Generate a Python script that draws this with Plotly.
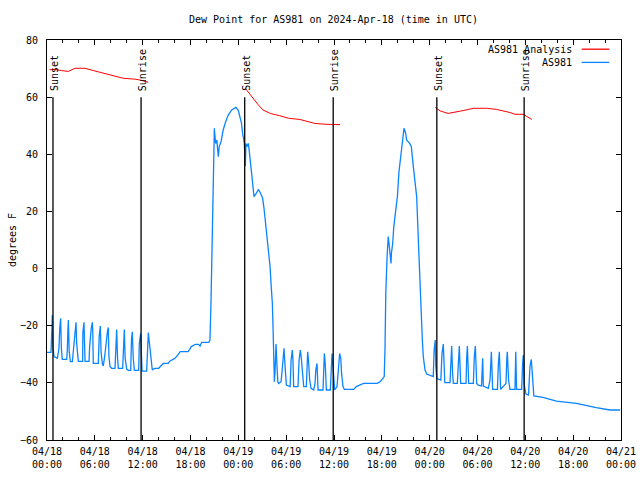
import plotly.graph_objects as go

# ---------------- data ----------------
# time is hours since 2024-04-18 00:00 UTC
analysis_hours = [0.3, 1.0, 1.8, 2.67, 3.5, 4.77, 5.81, 7.5, 8.5, 9.57, 11.0, 11.66, 12.71, None,
                  24.9, 25.5, 26.0, 26.5, 27.1, 28.0, 29.2, 30.3, 31.7, 32.5, 33.6, 35.0, 36.75, None,
                  48.7, 49.3, 50.3, 51.2, 52.2, 53.5, 55.15, 56.4, 57.2, 58.1, 58.7, 59.75, 60.8]
analysis_values = [69.6, 69.7, 69.3, 69.0, 70.1, 70.1, 69.3, 68.0, 67.3, 66.6, 66.3, 66.0, 65.2, None,
                   63.0, 60.8, 59.0, 57.3, 55.5, 54.3, 53.5, 52.6, 52.2, 51.7, 50.8, 50.5, 50.4, None,
                   56.4, 55.2, 54.3, 54.7, 55.3, 56.1, 56.1, 55.7, 55.3, 54.6, 54.0, 54.0, 52.2]

obs_hours = [
    0.0, 0.5, 0.55, 0.67, 0.75, 0.88, 1.3,
    1.5, 1.6, 1.71, 1.8, 1.92, 2.47,
    2.55, 2.62, 2.68, 2.78, 2.93, 3.18,
    3.3, 3.55, 3.64, 3.72, 3.85, 3.93, 4.47,
    4.5, 4.64, 4.7, 4.77, 5.27,
    5.35, 5.55, 5.69, 5.74, 5.81, 6.44,
    6.55, 6.69, 6.78, 6.95, 7.06, 7.25, 7.45, 7.58, 7.69, 7.77, 7.9, 8.11, 8.53,
    8.62, 8.74, 8.85, 8.95, 9.49,
    9.58, 9.7, 9.8, 10.0, 10.2, 10.5,
    10.6, 10.7, 10.82, 10.96, 11.5,
    11.58, 11.75, 11.85, 11.92, 12.5,
    12.6, 12.71, 12.78, 12.9, 13.05, 13.21, 13.35, 13.55,
    14.0, 14.3, 14.6, 15.2, 15.4, 15.8, 16.06, 16.4, 16.7, 17.1, 17.7, 17.9, 18.1, 18.6,
    19.0, 19.2, 19.4, 20.3, 20.44, 20.57, 20.74, 20.85, 20.95, 20.99, 21.15, 21.3, 21.49,
    21.6, 21.83, 22.1, 22.41, 22.75, 23.16, 23.7, 24.0, 24.21, 24.4, 24.54, 24.75, 24.88,
    24.95, 25.1, 25.25, 25.38, 25.47, 25.59, 25.72, 25.8, 25.97, 26.25, 26.51, 26.8, 27.05,
    27.22, 27.43, 27.64, 27.85, 27.98, 28.1, 28.27,
    28.35, 28.45, 28.52, 28.6, 28.73, 28.83, 28.95, 29.06, 29.36, 29.5, 29.62, 29.73, 29.8,
    29.9, 30.02, 30.5, 30.62, 30.77, 30.85, 30.94, 31.48, 31.62, 31.78, 31.9, 32.05, 32.2,
    32.53, 32.7, 32.8, 32.95, 33.12, 33.45, 33.62, 33.72, 33.87, 34.0, 34.62, 34.79, 34.9,
    35.04, 35.54, 35.75, 35.85, 36.0, 36.08, 36.38, 36.55, 36.71, 36.85, 36.95, 37.13, 37.3,
    38.47, 38.8, 39.7, 41.4, 41.8, 42.3, 42.4, 42.5, 42.66, 42.8, 42.9, 43.0, 43.15, 43.2,
    43.36, 43.5, 43.7, 43.95, 44.15, 44.36, 44.57, 44.78, 45.0, 45.1, 45.5, 45.7, 45.95,
    46.16, 46.37, 46.58, 46.8, 46.9, 47.08, 47.2, 47.42, 47.63, 48.25, 48.45,
    48.56, 48.7, 48.77, 48.9, 49.4, 49.55, 49.71, 49.79, 49.9, 50.55, 50.68, 50.76, 50.88,
    50.97, 51.47, 51.6, 51.72, 51.89, 52.56, 52.65, 52.73, 52.9, 53.48, 53.6, 53.73, 53.9,
    54.1, 54.5, 54.65, 54.73, 55.36, 55.57, 55.74, 55.9, 56.5, 56.62, 56.74, 56.9, 57.57,
    57.68, 57.74, 57.9, 58.07, 58.7, 58.8, 58.9, 59.54, 59.66, 59.75, 59.87, 60.08, 60.4,
    60.58, 60.75, 60.9, 61.07, 62.2, 63.1, 63.9, 66.4, 67.7, 68.9, 70.6, 71.9]
obs_values = [
    -29.3, -29.3, -26.0, -16.3, -27.3, -30.8, -31.4,
    -27.9, -20.9, -17.4, -27.9, -31.8, -31.8,
    -28.5, -21.5, -18.0, -28.8, -32.6, -32.6,
    -28.8, -20.3, -18.8, -26.2, -29.1, -32.5, -32.5,
    -22.4, -18.8, -29.1, -32.5, -32.5,
    -27.3, -20.9, -18.8, -22.1, -33.2, -33.2,
    -23.6, -20.1, -29.1, -33.4, -34.1, -30.5, -23.8, -22.1, -20.6, -30.8, -34.3, -34.9, -34.9,
    -24.8, -21.3, -31.4, -34.9, -34.9,
    -24.8, -21.3, -31.4, -35.3, -35.6, -35.6,
    -24.8, -22.1, -31.4, -35.6, -35.6,
    -26.2, -22.7, -29.1, -35.9, -35.9,
    -26.2, -22.4, -24.4, -27.9, -32.6, -35.5, -35.2, -34.9,
    -34.9, -34.1, -33.2, -33.2, -32.4, -31.8, -31.4, -30.3, -29.1, -29.1, -29.1, -28.3, -27.3, -26.5,
    -26.5, -27.1, -25.8, -25.8, -25.0, -11.9, 13.5, 32.2, 43.8, 49.1, 43.8, 45.0, 39.2,
    42.7, 44.4, 48.5, 51.4, 53.8, 55.5, 56.4, 55.3, 53.2, 50.8, 47.3, 43.8, 35.9,
    43.8, 42.7, 43.8, 40.9, 38.6, 35.7, 32.2, 28.7, 25.2, 26.3, 27.7, 26.3, 24.6,
    21.1, 15.2, 10.0, 5.3, 0.7, -5.2, -12.2,
    -20.3, -29.7, -39.6, -36.1, -26.4, -33.2, -39.6, -40.2, -39.6, -35.5, -30.8, -27.9, -31.4,
    -35.5, -40.8, -41.3, -32.0, -28.5, -32.0, -41.3, -41.3, -32.0, -28.5, -31.4, -35.5, -41.3,
    -41.3, -29.1, -32.0, -39.0, -41.9, -42.5, -40.2, -35.5, -33.2, -42.5, -42.5, -29.7, -33.2,
    -42.5, -42.5, -29.7, -33.2, -39.6, -42.5, -41.3, -33.2, -29.7, -31.4, -36.7, -41.3, -42.3,
    -42.3, -41.3, -40.2, -40.2, -39.6, -37.8, -27.9, -8.1, 4.2, 11.2, 8.8, 5.3, 1.8, 5.3,
    8.8, 14.7, 19.3, 25.2, 33.9, 38.6, 42.7, 49.1, 47.3, 45.0, 43.8, 42.7, 35.7,
    31.0, 25.2, 10.0, -7.5, -18.0, -25.0, -30.8, -35.5, -36.9, -37.6, -37.8,
    -28.5, -25.0, -34.3, -38.5, -39.0, -29.7, -26.4, -36.1, -39.9, -39.9, -30.8, -27.1, -36.7,
    -40.2, -40.2, -30.8, -27.1, -40.2, -40.2, -30.8, -27.1, -40.2, -40.2, -30.8, -27.1, -40.2,
    -40.8, -41.1, -31.4, -41.1, -41.9, -39.0, -29.1, -42.3, -42.3, -33.2, -29.1, -42.3, -40.2,
    -31.4, -29.1, -39.0, -42.3, -42.3, -29.1, -42.3, -42.3, -33.2, -30.3, -40.8, -43.9, -44.3,
    -34.3, -31.8, -40.2, -44.6, -45.1, -45.7, -46.4, -47.2, -48.1, -48.7, -49.5, -49.5]

sun_event_hours = [0.75, 11.8, 24.8, 35.9, 48.9, 59.85]
sun_event_labels = ["Sunset", "Sunrise", "Sunset", "Sunrise", "Sunset", "Sunrise"]

x_tick_hours = [0, 6, 12, 18, 24, 30, 36, 42, 48, 54, 60, 66, 72]
x_tick_labels = ["04/18<br>00:00", "04/18<br>06:00", "04/18<br>12:00", "04/18<br>18:00",
                 "04/19<br>00:00", "04/19<br>06:00", "04/19<br>12:00", "04/19<br>18:00",
                 "04/20<br>00:00", "04/20<br>06:00", "04/20<br>12:00", "04/20<br>18:00",
                 "04/21<br>00:00"]
y_tick_values = [-60, -40, -20, 0, 20, 40, 60, 80]

series_names = ["AS981 Analysis", "AS981"]
series_colors = ["#ff0000", "#0a84ff"]

FONT = "DejaVu Sans Mono"

FIG_W, FIG_H = 640, 480

fig = go.Figure()
fig.add_trace(go.Scatter(x=analysis_hours, y=analysis_values, mode="lines",
                         line=dict(color=series_colors[0], width=1), connectgaps=False,
                         name=series_names[0], showlegend=False))
fig.add_trace(go.Scatter(x=obs_hours, y=obs_values, mode="lines",
                         line=dict(color=series_colors[1], width=1.3),
                         name=series_names[1], showlegend=False))

for h, lab in zip(sun_event_hours, sun_event_labels):
    fig.add_shape(type="line", xref="x", yref="y", x0=h, x1=h, y0=-60, y1=60,
                  line=dict(color="black", width=1.3))
    fig.add_annotation(x=h, y=60, xref="x", yref="y", text=lab, textangle=-90,
                       showarrow=False, xanchor="center", yanchor="bottom", yshift=4, xshift=1,
                       font=dict(family=FONT, size=10, color="black"))

# gnuplot-style legend: text on the left, line sample on the right
legend_rows_y = [0.977, 0.944]
for name, color, yy in zip(series_names, series_colors, legend_rows_y):
    fig.add_annotation(x=0.918, y=yy, xref="paper", yref="paper", text=name, showarrow=False,
                       xanchor="right", yanchor="middle",
                       font=dict(family=FONT, size=10, color="black"))
    fig.add_shape(type="line", xref="paper", yref="paper", x0=0.9315, x1=0.9795, y0=yy, y1=yy,
                  line=dict(color=color, width=1.3))

fig.update_layout(
    width=FIG_W, height=FIG_H,
    margin=dict(l=47, r=19, t=40, b=40, autoexpand=False),
    paper_bgcolor="white", plot_bgcolor="white",
    font=dict(family=FONT, size=10, color="black"),
    title=dict(text="Dew Point for AS981 on 2024-Apr-18 (time in UTC)", x=333.5 / FIG_W,
               xanchor="center", y=1 - 19 / FIG_H, yanchor="middle", yref="container",
               font=dict(family=FONT, size=10, color="black")),
    showlegend=False,
)
fig.update_xaxes(range=[0, 72], tickmode="array", tickvals=x_tick_hours, ticktext=x_tick_labels,
                 ticks="inside", ticklen=5, tickcolor="black", tickwidth=1,
                 showline=True, linecolor="black", linewidth=1, mirror="allticks",
                 showgrid=False, zeroline=False, automargin=False, ticklabelstandoff=2,
                 minor=dict(tickmode="array", tickvals=list(range(0, 73, 2)), ticks="inside",
                            ticklen=3, tickcolor="black", showgrid=False),
                 tickfont=dict(family=FONT, size=10, color="black"))
fig.update_yaxes(range=[-60, 80], tickmode="array", tickvals=y_tick_values,
                 ticks="inside", ticklen=5, tickcolor="black", tickwidth=1,
                 showline=True, linecolor="black", linewidth=1, mirror="allticks",
                 showgrid=False, zeroline=False, automargin=False, ticklabelstandoff=6,
                 title=dict(text="degrees F", font=dict(family=FONT, size=10, color="black"),
                            standoff=1),
                 tickfont=dict(family=FONT, size=10, color="black"))

# remove the page's default body margin so the 640x480 figure fills the window exactly
fig.write_html("out.html", config={"displayModeBar": False},
               post_script="document.body.style.margin='0';document.body.style.overflow='hidden';")
